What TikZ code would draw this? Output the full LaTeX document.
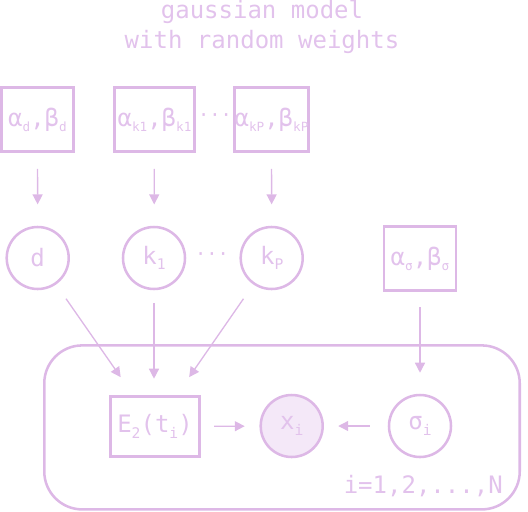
\documentclass[tikz,border=0pt]{standalone}
\usepackage{fontspec}
\setmainfont{DejaVu Sans Mono}
\usetikzlibrary{arrows.meta}
\definecolor{lineC}{RGB}{221,184,230}
\definecolor{textC}{RGB}{226,194,236}
\definecolor{fillC}{RGB}{244,232,248}
\newcommand\sbs[1]{\raisebox{-0.22em}{\fontsize{11}{11}\selectfont #1}}
\newcommand\sbb[1]{\raisebox{-0.22em}{\fontsize{9.5}{9.5}\selectfont #1}}
\tikzset{
  lbl/.style={text=textC, font=\fontsize{18}{18}\selectfont, inner sep=0pt},
  pbox/.style={lbl, draw=lineC, line width=1.9pt, rectangle, minimum width=54pt, minimum height=48pt},
  rv/.style={lbl, draw=lineC, line width=1.9pt, circle, minimum size=46.5pt},
  obs/.style={rv, fill=fillC},
  dots/.style={text=textC, font=\fontsize{14}{14}\selectfont, inner sep=0pt},
  plate/.style={draw=lineC, line width=1.9pt, rounded corners=28.5pt, minimum width=356.6pt, minimum height=123pt, inner sep=0pt},
  arr/.style={draw=lineC, line width=1pt, -{Triangle[length=7.5pt, width=7.5pt]}}
}
\begin{document}
\begin{tikzpicture}[x=0.75pt, y=-0.75pt]
\useasboundingbox (0,0) rectangle (528,511);
\node[lbl, anchor=base] (t1) at (262,18) {gaussian model};
\node[lbl, anchor=base] (t2) at (262,48) {with random weights};

\node[plate] (plate) at (282,427.4) {};

\node[pbox] (ad) at (37.5,119.5) {α\sbb{d},β\sbb{d}};
\node[pbox, minimum width=60pt] (ak1) at (154.5,119.5) {α\sbb{k1},β\sbb{k1}};
\node[dots] (dtop) at (215,118) {···};
\node[pbox] (akP) at (271.5,119.5) {α\sbb{kP},β\sbb{kP}};

\node[rv] (d) at (37.7,258) {d};
\node[rv] (k1) at (154,258) {k\sbs{1}};
\node[dots] (dmid) at (212,257) {···};
\node[rv] (kP) at (271.7,258) {k\sbs{P}};
\node[pbox] (asig) at (420,258.5) {α\sbb{σ},β\sbb{σ}};

\node[pbox, minimum width=66.75pt, minimum height=45pt] (E2) at (155,426.5) {E\sbs{2}(t\sbs{i})};
\node[obs] (x) at (291.7,426) {x\sbs{i}};
\node[rv] (sig) at (420,426) {σ\sbs{i}};

\node[lbl, anchor=base east] (rng) at (503,493) {i=1,2,...,N};

\draw[arr, shorten <=12pt, shorten >=16pt] (ad) -- (d);
\draw[arr, shorten <=12pt, shorten >=16pt] (ak1) -- (k1);
\draw[arr, shorten <=12pt, shorten >=16pt] (akP) -- (kP);
\draw[arr, shorten <=11.6pt, shorten >=15.75pt] (asig) -- (sig);

\draw[arr, shorten <=13pt, shorten >=16.5pt] (d) -- (E2);
\draw[arr, shorten <=9.5pt, shorten >=12.4pt] (k1) -- (k1 |- E2.north);
\draw[arr, shorten <=13pt, shorten >=16.5pt] (kP) -- (E2);

\draw[arr, shorten <=10pt, shorten >=11pt] (E2) -- (x);
\draw[arr, shorten <=13.5pt, shorten >=10.7pt] (sig) -- (x);
\end{tikzpicture}
\end{document}
